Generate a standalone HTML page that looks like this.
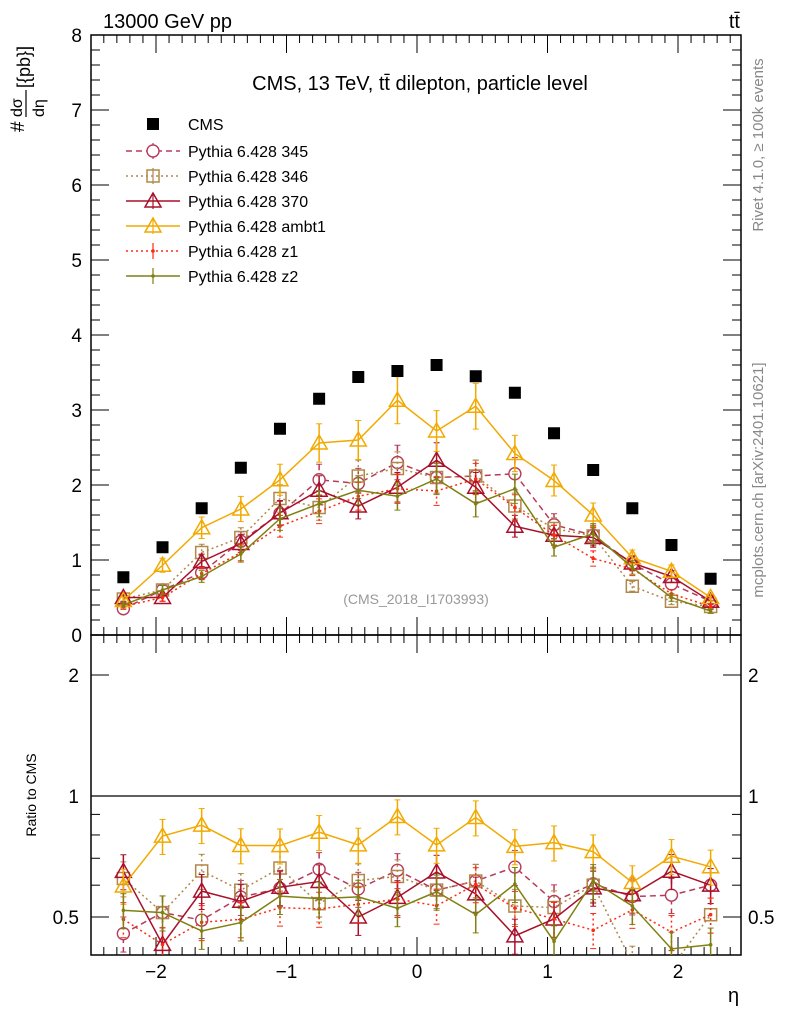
<!DOCTYPE html>
<html><head><meta charset="utf-8"><style>
body{margin:0;background:#fff}
svg{display:block;font-family:"Liberation Sans",sans-serif}
</style></head><body>
<svg id="c" width="786" height="1024" viewBox="0 0 786 1024">
<text x="103" y="28" font-size="20">13000 GeV pp</text>
<text x="740" y="28" font-size="20" text-anchor="end">tt̄</text>
<text x="420" y="90" font-size="20" text-anchor="middle">CMS, 13 TeV, tt̄ dilepton, particle level</text>
<text transform="translate(763,145) rotate(-90)" font-size="15" fill="#888" text-anchor="middle">Rivet 4.1.0, ≥ 100k events</text>
<text transform="translate(763,480) rotate(-90)" font-size="15" fill="#888" text-anchor="middle">mcplots.cern.ch [arXiv:2401.10621]</text>
<text x="416" y="604" font-size="14" fill="#999" text-anchor="middle">(CMS_2018_I1703993)</text>
<g transform="translate(0,0)">
<text transform="translate(24,132) rotate(-90)" font-size="19">#</text>
<text transform="translate(22,117) rotate(-90)" font-size="16">dσ</text>
<line x1="26" x2="26" y1="90" y2="117" stroke="#000" stroke-width="1.2"/>
<text transform="translate(44,117) rotate(-90)" font-size="16">dη</text>
<text transform="translate(30,88) rotate(-90)" font-size="18">[{pb}]</text>
</g>
<text transform="translate(36,795) rotate(-90)" font-size="14" text-anchor="middle">Ratio to CMS</text>
<text x="728" y="1002" font-size="20">η</text>
</svg>
<script>
const etaCenters=[-2.25,-1.95,-1.65,-1.35,-1.05,-0.75,-0.45,-0.15,0.15,0.45,0.75,1.05,1.35,1.65,1.95,2.25];
const cmsVals=[0.77,1.17,1.69,2.23,2.75,3.15,3.44,3.52,3.6,3.45,3.23,2.69,2.2,1.69,1.2,0.75];
const p345=[0.35,0.6,0.83,1.25,1.62,2.07,2.02,2.3,2.1,2.12,2.15,1.47,1.33,0.95,0.68,0.45];
const p346=[0.48,0.6,1.1,1.3,1.82,1.7,2.12,2.22,2.1,2.12,1.72,1.42,1.32,0.65,0.45,0.38];
const p370=[0.5,0.5,0.98,1.22,1.63,1.93,1.72,1.97,2.33,1.97,1.45,1.33,1.3,0.96,0.78,0.45];
const pambt1=[0.46,0.93,1.43,1.68,2.07,2.56,2.6,3.13,2.72,3.05,2.42,2.06,1.6,1.03,0.85,0.5];
const pz1=[0.38,0.5,0.82,1.1,1.45,1.65,1.85,1.95,1.92,2.08,1.7,1.33,1.02,0.88,0.55,0.38];
const pz2=[0.4,0.6,0.78,1.08,1.55,1.75,1.93,1.85,2.08,1.75,1.95,1.17,1.35,0.9,0.5,0.32];
const yTicks=[0,1,2,3,4,5,6,7,8];
const xTicks=[-2,-1,0,1,2];
const rTicks=[0.5,1,2];
const relErr=0.1;

const svg=document.getElementById('c');const NS='http://www.w3.org/2000/svg';
const X0=91,X1=741,MT=35,MB=635,RT=635,RB=955;
const xs=v=>417+v*130.5;
const ys=v=>635-v*75;
const rs=v=>796-Math.log10(v)*402;
function el(t,a,p){const e=document.createElementNS(NS,t);for(const k in a)e.setAttribute(k,a[k]);(p||svg).appendChild(e);return e;}
let f=el('rect',{x:X0,y:MT,width:X1-X0,height:MB-MT,fill:'none',stroke:'#000','stroke-width':1.5});

let f2=el('rect',{x:X0,y:RT,width:X1-X0,height:RB-RT,fill:'none',stroke:'#000','stroke-width':1.5});

let ref=el('line',{x1:X0,x2:X1,y1:rs(1),y2:rs(1),stroke:'#000','stroke-width':1.2});

for(let v=0;v<=8.001;v+=0.2){const big=Math.abs(v-Math.round(v))<1e-6;const y=ys(v);const L=big?18:9;
el('line',{x1:X0,x2:X0+L,y1:y,y2:y,stroke:'#000'});el('line',{x1:X1,x2:X1-L,y1:y,y2:y,stroke:'#000'});}
yTicks.forEach(v=>{const t=el('text',{x:82,y:ys(v)+7,'font-size':19,'text-anchor':'end'});t.textContent=v;
});
[0.5,0.6,0.7,0.8,0.9,1,2].forEach(v=>{const y=rs(v);const L=rTicks.includes(v)?18:9;
el('line',{x1:X0,x2:X0+L,y1:y,y2:y,stroke:'#000'});el('line',{x1:X1,x2:X1-L,y1:y,y2:y,stroke:'#000'});});
rTicks.forEach(v=>{const a=el('text',{x:79,y:rs(v)+7,'font-size':19,'text-anchor':'end'});a.textContent=v;

const b=el('text',{x:748,y:rs(v)+7,'font-size':19});b.textContent=v;
});
for(let v=-2.4;v<=2.45;v+=0.1){const x=xs(v);const big=Math.abs(v-Math.round(v))<1e-6;const L=big?18:8;
[[MB,-1],[MT,1],[RB,-1],[RT,1]].forEach(([y,d])=>el('line',{x1:x,x2:x,y1:y,y2:y+d*L,stroke:'#000'}));}
xTicks.forEach(v=>{const t=el('text',{x:xs(v),y:978,'font-size':19,'text-anchor':'middle'});t.textContent=(v<0?'−'+(-v):v);
});
const defs=el('defs',{});const cp=el('clipPath',{id:'cr'},defs);el('rect',{x:X0,y:RT,width:X1-X0,height:RB-RT},cp);
const cpm=el('clipPath',{id:'cm'},defs);el('rect',{x:X0,y:MT,width:X1-X0,height:MB-MT},cpm);
const series=[
 {n:'345',d:p345,c:'#b83a5a',dash:'6,4',m:'circle'},
 {n:'346',d:p346,c:'#b0884a',dash:'2,3',m:'square'},
 {n:'370',d:p370,c:'#a8102a',dash:'',m:'tri'},
 {n:'ambt1',d:pambt1,c:'#f2a900',dash:'',m:'tri'},
 {n:'z1',d:pz1,c:'#ff2a10',dash:'2,3',m:'dot'},
 {n:'z2',d:pz2,c:'#7f8010',dash:'',m:'dot'}];
function marker(g,m,x,y,c){if(m==='circle')el('circle',{cx:x,cy:y,r:6,fill:'#fff',stroke:c,'stroke-width':1.4},g);
else if(m==='square')el('rect',{x:x-6,y:y-6,width:12,height:12,fill:'none',stroke:c,'stroke-width':1.5},g);
else if(m==='tri')el('path',{d:`M${x},${y-8}L${x+8},${y+6}L${x-8},${y+6}Z`,fill:'none',stroke:c,'stroke-width':1.5},g);
else el('circle',{cx:x,cy:y,r:1.8,fill:c},g);}
function drawS(s,ymap,vals,clip,name){const g=el('g',{'clip-path':`url(#${clip})`});

const pts=vals.map((v,i)=>[xs(etaCenters[i]),ymap(v)]);
el('polyline',{points:pts.map(p=>p.join(',')).join(' '),fill:'none',stroke:s.c,'stroke-width':1.5,'stroke-dasharray':s.dash},g);
vals.forEach((v,i)=>{const x=pts[i][0],y1=ymap(v*(1+relErr)),y2=ymap(v*(1-relErr));
el('line',{x1:x,x2:x,y1:y1,y2:y2,stroke:s.c,'stroke-width':1.5,'stroke-dasharray':s.dash},g);
el('line',{x1:x-3,x2:x+3,y1:y1,y2:y1,stroke:s.c},g);el('line',{x1:x-3,x2:x+3,y1:y2,y2:y2,stroke:s.c},g);
marker(g,s.m,x,pts[i][1],s.c);});}
series.forEach(s=>{drawS(s,ys,s.d,'cm','series-'+s.n);
drawS(s,rs,s.d.map((v,i)=>v/cmsVals[i]),'cr','ratio-'+s.n);});
cmsVals.forEach((v,i)=>{const r=el('rect',{x:xs(etaCenters[i])-6,y:ys(v)-6,width:12,height:12,fill:'#000'});
});
const leg=el('g',{});
const lr=[{t:'CMS',y:124},...series.map((s,i)=>({t:'Pythia 6.428 '+s.n,y:151+i*25,s}))];
lr.forEach(r=>{const g=el('g',{},leg);
if(!r.s)el('rect',{x:147,y:r.y-6,width:12,height:12,fill:'#000'},g);
else{el('line',{x1:126,x2:180,y1:r.y,y2:r.y,stroke:r.s.c,'stroke-width':1.5,'stroke-dasharray':r.s.dash},g);
el('line',{x1:153,x2:153,y1:r.y-8,y2:r.y+8,stroke:r.s.c,'stroke-width':1.2},g);marker(g,r.s.m,153,r.y,r.s.c);}
const t=el('text',{x:188,y:r.y+6,'font-size':16},g);t.textContent=r.t;});
</script>
</body></html>
